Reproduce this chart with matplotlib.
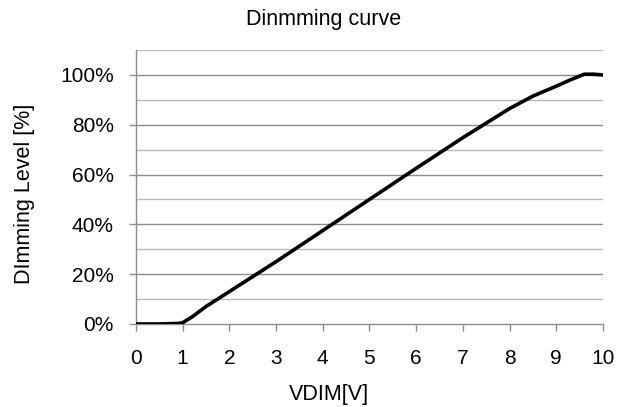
import matplotlib.pyplot as plt
from matplotlib.ticker import FuncFormatter, MultipleLocator

plt.rcParams['font.family'] = ['Liberation Sans', 'DejaVu Sans']

# data
vdim = [0, 0.5, 0.9, 1.0, 1.2, 1.5, 2, 3, 4, 5, 6, 7, 8, 8.5, 9, 9.3, 9.6, 9.8, 10]
level = [0, 0, 0.002, 0.005, 0.028, 0.07, 0.13, 0.25, 0.375, 0.5, 0.625, 0.748, 0.865, 0.915, 0.955, 0.98, 1.003, 1.003, 1.0]

fig = plt.figure(figsize=(6.32, 4.07), dpi=100)
ax = fig.add_axes([0.215, 0.204, 0.739, 0.673])

# grid lines: darker on 20% steps, lighter in between
for g in range(1, 12):
    y = g / 10
    if g % 2 == 0:
        ax.axhline(y, color='#8c8c8c', lw=1.0, zorder=1)
    else:
        ax.axhline(y, color='#b8b8b8', lw=1.0, zorder=1)

ax.plot(vdim, level, color='black', lw=2.6, solid_capstyle='round', zorder=3)

ax.set_xlim(0, 10)
ax.set_ylim(0, 1.1)
ax.xaxis.set_major_locator(MultipleLocator(1))
ax.yaxis.set_major_locator(MultipleLocator(0.2))
ax.yaxis.set_major_formatter(FuncFormatter(lambda v, p: f"{v*100:.0f}%" if v <= 1.001 else ""))

for s in ['top', 'right']:
    ax.spines[s].set_visible(False)
for s in ['left', 'bottom']:
    ax.spines[s].set_color('#8c8c8c')
    ax.spines[s].set_linewidth(1.0)

ax.tick_params(axis='both', colors='#8c8c8c', labelcolor='black', labelsize=15, length=5, width=1.0)
ax.tick_params(axis='x', pad=13)
ax.tick_params(axis='y', pad=11)

fig.text(324 / 632, 0.951, "Dinmming curve", fontsize=15.5, ha='center', va='center')
ax.set_xlabel("VDIM[V]", fontsize=15.5)
ax.xaxis.set_label_coords(0.413, -0.259)
ax.xaxis.label.set_va('center')
ax.set_ylabel("DImming Level [%]", fontsize=15.5)
ax.yaxis.set_label_coords(-0.238, 0.474)
ax.yaxis.label.set_va('center')

fig.savefig("out.png", dpi=100)
